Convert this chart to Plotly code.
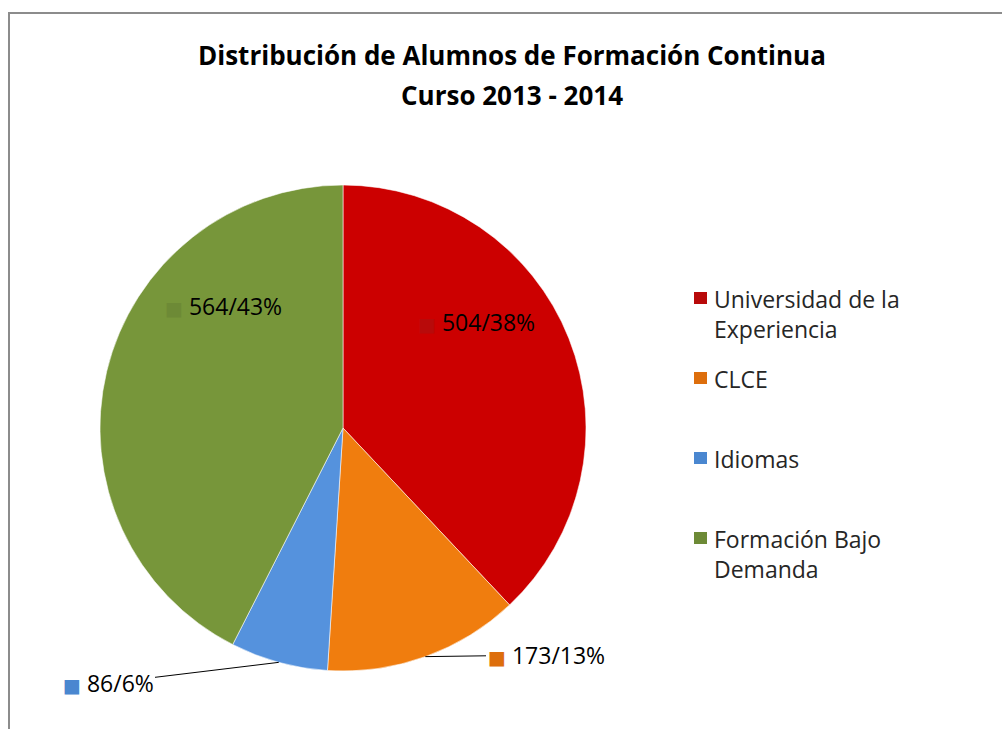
import math
import plotly.graph_objects as go

categories = ["Universidad de la Experiencia", "CLCE", "Idiomas", "Formación Bajo Demanda"]
legend_labels = ["Universidad de la<br>Experiencia", "CLCE", "Idiomas", "Formación Bajo<br>Demanda"]
values = [504, 173, 86, 564]
colors = ["#CC0000", "#F07D0E", "#5592DD", "#77963A"]
marker_colors = ["#B80A0A", "#DD6E0C", "#4A87D0", "#6D8A36"]
title_lines = ["Distribución de Alumnos de Formación Continua", "Curso 2013 - 2014"]

W, H = 1002, 729
FONT = "Open Sans"
cx, cy, R = 343, 428, 243  # pie centre / radius in px

# label layout: offset of label centre from pie centre (px), and whether it is outside
label_offsets = [(133, -106), (203, 227), (-235, 255), (-120, -122)]
outside = [False, True, True, False]

total = sum(values)
pcts = [int(v / total * 100 + 0.5) for v in values]
label_texts = [f"{v}/{p}%" for v, p in zip(values, pcts)]


def sq(c):
    return f'<span style="font-family:DejaVu Sans;font-size:19px;color:{c}">■</span>'


fig = go.Figure()
fig.add_trace(go.Pie(
    labels=categories,
    values=values,
    textinfo="none",
    sort=False,
    direction="clockwise",
    rotation=0,
    marker=dict(colors=colors, line=dict(color="rgba(255,255,255,0.55)", width=1)),
    showlegend=False,
    hoverinfo="label+value+percent",
    domain=dict(x=[(cx - R) / W, (cx + R) / W], y=[(H - cy - R) / H, (H - cy + R) / H]),
))

annotations = []
cum = 0
for i, v in enumerate(values):
    mid = (cum + v / 2) / total * 2 * math.pi
    cum += v
    dx, dy = label_offsets[i]
    txt = f"{sq(marker_colors[i])} {label_texts[i]}"
    if outside[i]:
        px = cx + R * math.sin(mid)
        py = cy - R * math.cos(mid)
        annotations.append(dict(
            x=px / W, y=1 - py / H, xref="paper", yref="paper",
            text=txt, showarrow=True, arrowhead=0, arrowwidth=1, arrowcolor="#000000",
            ax=cx + dx - px, ay=cy + dy - py,
            font=dict(family=FONT, size=23, color="#000000"),
        ))
    else:
        annotations.append(dict(
            x=(cx + dx) / W, y=1 - (cy + dy) / H, xref="paper", yref="paper",
            xanchor="center", yanchor="middle",
            text=txt, showarrow=False,
            font=dict(family=FONT, size=23, color="#000000"),
        ))

# title (two lines)
for txt, yc in zip(title_lines, [55, 95]):
    annotations.append(dict(
        x=512 / W, y=1 - yc / H, xref="paper", yref="paper",
        xanchor="center", yanchor="middle",
        text=f"<b>{txt}</b>", showarrow=False,
        font=dict(family=FONT, size=26, color="#000000"),
    ))

shapes = []
# legend
leg_x = 701
leg_y = [298, 378, 458, 538]
for i, lab in enumerate(legend_labels):
    y0 = leg_y[i]
    shapes.append(dict(type="rect", xref="paper", yref="paper",
                       x0=(leg_x - 7) / W, x1=(leg_x + 6) / W,
                       y0=1 - (y0 + 6) / H, y1=1 - (y0 - 6) / H,
                       fillcolor=marker_colors[i], line=dict(width=0)))
    annotations.append(dict(
        x=(leg_x + 11) / W, y=1 - (y0 - 17) / H, xref="paper", yref="paper",
        text=lab, showarrow=False, xanchor="left", yanchor="top", align="left",
        font=dict(family=FONT, size=23, color="#262626"),
    ))

# chart area border
shapes.append(dict(type="rect", xref="paper", yref="paper",
                   x0=9 / W, x1=1.02, y0=-0.05, y1=1 - 13 / H,
                   line=dict(color="#8c8c8c", width=2), fillcolor="rgba(0,0,0,0)", layer="below"))

fig.update_layout(
    width=W, height=H,
    margin=dict(l=0, r=0, t=0, b=0),
    paper_bgcolor="#ffffff",
    plot_bgcolor="#ffffff",
    annotations=annotations,
    shapes=shapes,
    font=dict(family=FONT),
)

fig.write_html("out.html", config={"displayModeBar": False},
               post_script="document.body.style.margin='0';")
